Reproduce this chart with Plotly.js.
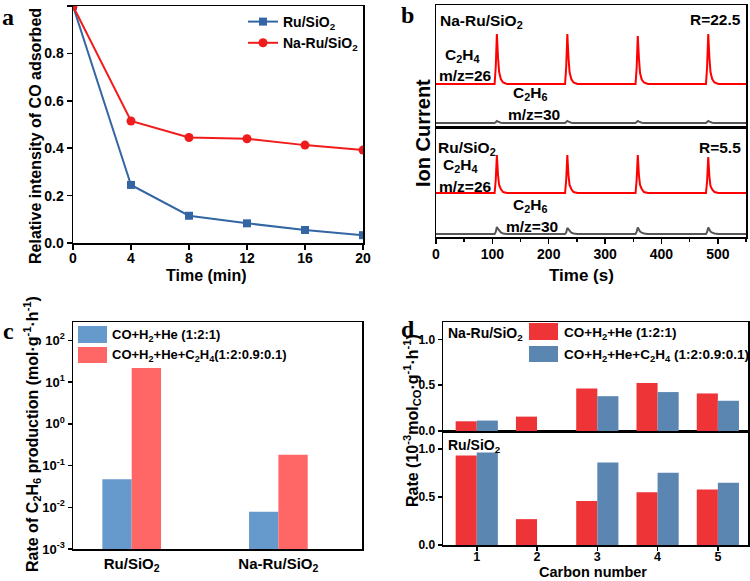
<!DOCTYPE html>
<html><head><meta charset="utf-8">
<script src="https://cdn.plot.ly/plotly-3.0.1.min.js"></script>
<style>html,body{margin:0;padding:0;background:#fff}#chart{width:750px;height:581px}</style>
</head><body><div id="chart"></div>
<script>
// ---------- Panel a : CO desorption ----------
const timeMin = [0, 4, 8, 12, 16, 20];
const coRu = [1.0, 0.245, 0.115, 0.083, 0.055, 0.033];
const coNaRu = [1.0, 0.515, 0.445, 0.44, 0.413, 0.392];
const seriesA = ['Ru/SiO<sub>2</sub>', 'Na-Ru/SiO<sub>2</sub>'];

// ---------- Panel b : ion current pulses ----------
const timeSec = [0, 104, 106, 108, 110, 112, 115, 119, 126,
  229, 231, 233, 235, 237, 240, 244, 251,
  354, 356, 358, 360, 362, 365, 369, 376,
  479, 481, 483, 485, 487, 490, 494, 501, 550];
const naC2H4 = [43, 43, 60, 93, 70, 55, 48, 44.5, 43,
  43, 60, 93, 70, 55, 48, 44.5, 43,
  43, 59, 91, 69, 54, 47.5, 44.5, 43,
  43, 60, 93, 70, 55, 48, 44.5, 43, 43];
const naC2H6 = [4, 4, 4.8, 6, 5.3, 4.7, 4.3, 4.1, 4,
  4, 4.8, 6, 5.3, 4.7, 4.3, 4.1, 4,
  4, 4.8, 6, 5.3, 4.7, 4.3, 4.1, 4,
  4, 4.8, 6, 5.3, 4.7, 4.3, 4.1, 4, 4];
const ruC2H4 = [44, 44, 57, 82, 62, 52, 48, 45, 44,
  44, 57, 82, 62, 52, 48, 45, 44,
  44, 57, 82, 62, 52, 48, 45, 44,
  44, 56, 80, 61, 51, 47.5, 45, 44, 44];
const ruC2H6 = [3, 3, 5, 10, 8, 6, 4.5, 3.5, 3,
  3, 4.5, 9, 7.5, 5.5, 4.3, 3.5, 3,
  3, 5, 9.5, 7.5, 5.5, 4.3, 3.5, 3,
  3, 5, 9.5, 7.5, 5.5, 4.3, 3.5, 3, 3];

// ---------- Panel c : C2H6 production (log) ----------
const catalystsC = ['Ru/SiO<sub>2</sub>', 'Na-Ru/SiO<sub>2</sub>'];
const c2h6Syngas = [0.047, 0.0078];
const c2h6SyngasEthylene = [21.7, 0.182];
const feedNamesC = ['CO+H<sub>2</sub>+He (1:2:1)', 'CO+H<sub>2</sub>+He+C<sub>2</sub>H<sub>4</sub>(1:2:0.9:0.1)'];
const logTickVals = [0.001, 0.01, 0.1, 1, 10, 100];
const logTickText = ['10<sup>-3</sup>', '10<sup>-2</sup>', '10<sup>-1</sup>', '10<sup>0</sup>', '10<sup>1</sup>', '10<sup>2</sup>'];

// ---------- Panel d : rate vs carbon number ----------
const carbonNumber = [1, 2, 3, 4, 5];
const naRuSyngas = [0.106, 0.157, 0.465, 0.524, 0.41];
const naRuSyngasEthylene = [0.114, null, 0.38, 0.425, 0.33];
const ruSyngas = [0.934, 0.27, 0.46, 0.55, 0.58];
const ruSyngasEthylene = [0.965, null, 0.86, 0.753, 0.65];
const feedNamesD = ['CO+H<sub>2</sub>+He (1:2:1)', 'CO+H<sub>2</sub>+He+C<sub>2</sub>H<sub>4</sub> (1:2:0.9:0.1)'];

// ---------- helpers ----------
const W = 750, H = 581;
const px = x => x / W;
const py = y => 1 - y / H;
const F = 'Liberation Sans, Arial, sans-serif';
const font = (s, c) => ({family: F, size: s, color: c || '#000', weight: 'bold'});
const axBase = {showline: true, linecolor: '#000', linewidth: 1.5, mirror: true,
  ticks: 'outside', ticklen: 5, tickwidth: 1.5, tickcolor: '#000',
  showgrid: false, zeroline: false, tickfont: font(14)};

const blueA = '#3466a3', redA = '#f01c1c';
const blueC = '#6699cc', redC = '#ff6666';
const redD = '#ef3438', blueD = '#5b86b1';

const traces = [
  // a
  {x: timeMin, y: coRu, name: seriesA[0], type: 'scatter', mode: 'lines+markers',
   line: {color: blueA, width: 2}, marker: {symbol: 'square', size: 8, color: blueA},
   xaxis: 'x', yaxis: 'y', legend: 'legend'},
  {x: timeMin, y: coNaRu, name: seriesA[1], type: 'scatter', mode: 'lines+markers',
   line: {color: redA, width: 2}, marker: {symbol: 'circle', size: 9, color: redA},
   xaxis: 'x', yaxis: 'y', legend: 'legend'},
  // b
  {x: timeSec, y: naC2H4, type: 'scatter', mode: 'lines', line: {color: '#ff0000', width: 2},
   xaxis: 'x3', yaxis: 'y2', showlegend: false},
  {x: timeSec, y: naC2H6, type: 'scatter', mode: 'lines', line: {color: '#555', width: 2},
   xaxis: 'x3', yaxis: 'y2', showlegend: false},
  {x: timeSec, y: ruC2H4, type: 'scatter', mode: 'lines', line: {color: '#ff0000', width: 2},
   xaxis: 'x2', yaxis: 'y3', showlegend: false},
  {x: timeSec, y: ruC2H6, type: 'scatter', mode: 'lines', line: {color: '#555', width: 2},
   xaxis: 'x2', yaxis: 'y3', showlegend: false},
  // c
  {x: catalystsC, y: c2h6Syngas, type: 'bar', name: feedNamesC[0], width: 0.2, offset: -0.2,
   marker: {color: blueC}, xaxis: 'x4', yaxis: 'y4', showlegend: false},
  {x: catalystsC, y: c2h6SyngasEthylene, type: 'bar', name: feedNamesC[1], width: 0.2, offset: 0,
   marker: {color: redC}, xaxis: 'x4', yaxis: 'y4', showlegend: false},
  // d top (Na-Ru)
  {x: carbonNumber, y: naRuSyngas, type: 'bar', name: feedNamesD[0], width: 0.35, offset: -0.35,
   marker: {color: redD}, xaxis: 'x6', yaxis: 'y5', showlegend: false},
  {x: carbonNumber, y: naRuSyngasEthylene, type: 'bar', name: feedNamesD[1], width: 0.35, offset: 0,
   marker: {color: blueD}, xaxis: 'x6', yaxis: 'y5', showlegend: false},
  // d bottom (Ru)
  {x: carbonNumber, y: ruSyngas, type: 'bar', name: feedNamesD[0], width: 0.35, offset: -0.35,
   marker: {color: redD}, xaxis: 'x5', yaxis: 'y6', showlegend: false},
  {x: carbonNumber, y: ruSyngasEthylene, type: 'bar', name: feedNamesD[1], width: 0.35, offset: 0,
   marker: {color: blueD}, xaxis: 'x5', yaxis: 'y6', showlegend: false}
];

const ann = (x, y, text, size, opts) => Object.assign({xref: 'paper', yref: 'paper', x: px(x), y: py(y),
  text: text, showarrow: false, font: font(size), xanchor: 'center', yanchor: 'middle'}, opts || {});
const serif = s => ({family: 'Liberation Serif, Times New Roman, serif', size: s, color: '#000', weight: 'bold'});

const annotations = [
  // panel letters
  ann(8, 17, 'a', 24, {font: serif(24)}),
  ann(407, 15, 'b', 24, {font: serif(24)}),
  ann(8, 331, 'c', 24, {font: serif(24)}),
  ann(408, 329, 'd', 24, {font: serif(24)}),
  // a titles
  ann(35, 136, 'Relative intensity of CO adsorbed', 16, {textangle: -90}),
  ann(206, 275, 'Time (min)', 16),
  // b titles & labels
  ann(423, 133, 'Ion Current', 20, {textangle: -90}),
  ann(581, 275, 'Time (s)', 17),
  ann(438, 21, 'Na-Ru/SiO<sub>2</sub>', 15.5, {xanchor: 'left'}),
  ann(743, 19, 'R=22.5', 15.5, {xanchor: 'right'}),
  ann(462, 55, 'C<sub>2</sub>H<sub>4</sub>', 15.5),
  ann(466, 75, 'm/z=26', 15.5),
  ann(530, 94, 'C<sub>2</sub>H<sub>6</sub>', 15.5),
  ann(534, 114, 'm/z=30', 15.5),
  ann(436, 148, 'Ru/SiO<sub>2</sub>', 15.5, {xanchor: 'left'}),
  ann(743, 147, 'R=5.5', 15.5, {xanchor: 'right'}),
  ann(460, 165, 'C<sub>2</sub>H<sub>4</sub>', 15.5),
  ann(466, 186, 'm/z=26', 15.5),
  ann(530, 205, 'C<sub>2</sub>H<sub>6</sub>', 15.5),
  ann(532, 226, 'm/z=30', 15.5),
  // c titles & legend
  ann(32, 434, 'Rate of C<sub>2</sub>H<sub>6</sub> production (mol·g<sup>-1</sup>·h<sup>-1</sup>)', 16, {textangle: -90}),
  ann(110, 335, feedNamesC[0], 13, {xanchor: 'left'}),
  ann(110, 355, feedNamesC[1], 13, {xanchor: 'left'}),
  // d titles & legend
  ann(412, 421, 'Rate (10<sup>-3</sup>mol<sub>CO</sub>·g<sup>-1</sup>·h<sup>-1</sup>)', 16, {textangle: -90}),
  ann(593, 582, 'Carbon number', 14.5, {yanchor: 'bottom'}),
  ann(446, 334, 'Na-Ru/SiO<sub>2</sub>', 14, {xanchor: 'left'}),
  ann(446, 446, 'Ru/SiO<sub>2</sub>', 14, {xanchor: 'left'}),
  ann(562, 333, feedNamesD[0], 13.5, {xanchor: 'left'}),
  ann(562, 355, feedNamesD[1], 13.5, {xanchor: 'left'})
];

const rect = (x0, y0, x1, y1, c) => ({type: 'rect', xref: 'paper', yref: 'paper',
  x0: px(x0), x1: px(x1), y0: py(y1), y1: py(y0), fillcolor: c, line: {width: 0}});
const shapes = [
  rect(78, 326, 107, 343, blueC),
  rect(78, 347, 107, 363, redC),
  rect(529, 323, 558, 340, redD),
  rect(529, 346, 558, 362, blueD)
];

const layout = {
  width: W, height: H, margin: {l: 0, r: 0, t: 0, b: 0},
  paper_bgcolor: '#fff', plot_bgcolor: 'rgba(0,0,0,0)',
  font: font(14),
  showlegend: true,
  legend: {x: px(243), y: py(6), xanchor: 'left', yanchor: 'top', bgcolor: 'rgba(0,0,0,0)',
    font: font(14), itemwidth: 30, tracegroupgap: 0},
  // a
  xaxis: Object.assign({}, axBase, {domain: [px(73), px(363)], anchor: 'y', range: [0, 20], tick0: 0, dtick: 4,
    ticklabelstandoff: -3}),
  yaxis: Object.assign({}, axBase, {domain: [py(243), py(6)], anchor: 'x', range: [0, 1], dtick: 0.2, tickformat: '.1f'}),
  // b
  xaxis2: Object.assign({}, axBase, {domain: [px(436), px(746)], anchor: 'y3', range: [0, 550], tick0: 0, dtick: 100,
    ticklabelstandoff: -1,
    minor: {dtick: 50, ticks: 'outside', ticklen: 3, tickwidth: 1.5, tickcolor: '#000'}}),
  xaxis3: Object.assign({}, axBase, {domain: [px(436), px(746)], anchor: 'y2', matches: 'x2', ticks: '', showticklabels: false}),
  yaxis2: Object.assign({}, axBase, {domain: [py(127), py(5)], anchor: 'x3', range: [0, 122], ticks: '', showticklabels: false}),
  yaxis3: Object.assign({}, axBase, {domain: [py(237), py(127)], anchor: 'x2', range: [0, 110], ticks: '', showticklabels: false}),
  // c
  xaxis4: Object.assign({}, axBase, {type: 'category', domain: [px(73), px(362)], anchor: 'y4', range: [-0.4, 1.57],
    ticks: '', tickfont: font(15)}),
  yaxis4: Object.assign({}, axBase, {type: 'log', domain: [py(549), py(322)], anchor: 'x4', range: [-3, 2.44],
    tickvals: logTickVals, ticktext: logTickText, tickfont: font(13), ticklen: 4}),
  // d
  xaxis5: Object.assign({}, axBase, {domain: [px(443), px(748)], anchor: 'y6', range: [0.44, 5.5], tickvals: carbonNumber,
    tickfont: font(12.5), ticklen: 4, ticklabelstandoff: -5}),
  xaxis6: Object.assign({}, axBase, {domain: [px(443), px(748)], anchor: 'y5', matches: 'x5', ticks: '', showticklabels: false}),
  yaxis5: Object.assign({}, axBase, {domain: [py(431), py(322)], anchor: 'x6', range: [0, 1.19], dtick: 0.5, tickformat: '.1f',
    tickfont: font(12), ticklen: 4}),
  yaxis6: Object.assign({}, axBase, {domain: [py(545), py(431)], anchor: 'x5', range: [0, 1.19], dtick: 0.5, tickformat: '.1f',
    tickfont: font(12), ticklen: 4}),
  annotations: annotations,
  shapes: shapes
};

Plotly.newPlot('chart', traces, layout, {staticPlot: true, displayModeBar: false});
</script>
</body></html>
